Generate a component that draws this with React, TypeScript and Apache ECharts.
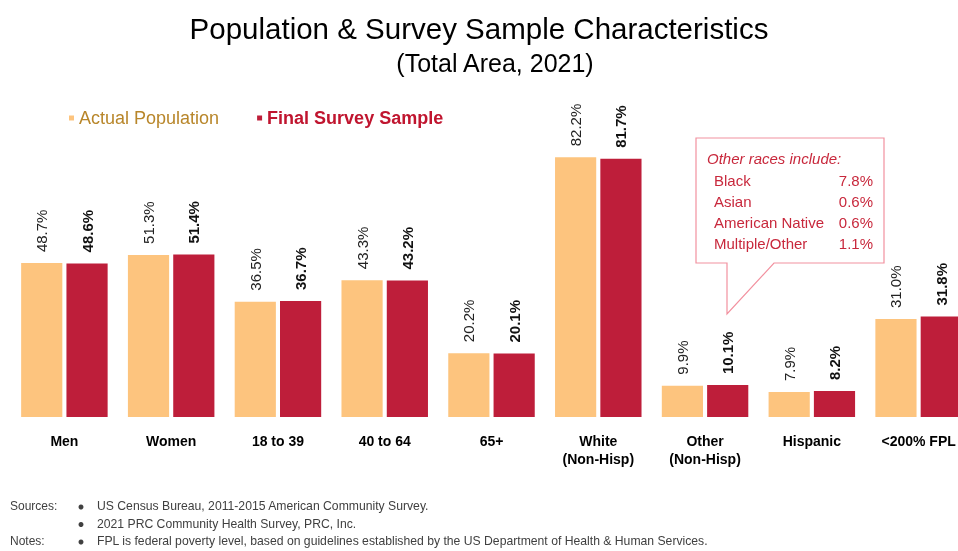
import React, { useEffect, useRef } from "react";
import * as echarts from "echarts";

const categories = ["Men", "Women", "18 to 39", "40 to 64", "65+", "White\n(Non-Hisp)", "Other\n(Non-Hisp)", "Hispanic", "<200% FPL"];
const actualPopulation = [48.7, 51.3, 36.5, 43.3, 20.2, 82.2, 9.9, 7.9, 31.0];
const finalSurveySample = [48.6, 51.4, 36.7, 43.2, 20.1, 81.7, 10.1, 8.2, 31.8];
const otherRaceNames = ["Black", "Asian", "American Native", "Multiple/Other"];
const otherRaceValues = ["7.8%", "0.6%", "0.6%", "1.1%"];
const footerLines = [
  ["Sources:", "US Census Bureau, 2011-2015 American Community Survey."],
  ["", "2021 PRC Community Health Survey, PRC, Inc."],
  ["Notes:", "FPL is federal poverty level, based on guidelines established by the US Department of Health & Human Services."],
];

const ORANGE = "#fdc47e";
const RED = "#be1e3a";
const FONT = "'Liberation Sans', Arial, sans-serif";
const NARROW = "'Liberation Sans Narrow', 'Arial Narrow', sans-serif";

export default function App() {
  const ref = useRef<HTMLDivElement>(null);
  useEffect(() => {
    if (!ref.current) return;
    const chart = echarts.init(ref.current, null, { renderer: "svg" });
    const calloutText: any[] = [
      { type: "text", x: 707, y: 151, z: 11, style: { text: "Other races include:", font: `italic 15px ${FONT}`, fill: "#c8283c", textVerticalAlign: "top" } },
    ];
    otherRaceNames.forEach((n, i) => {
      calloutText.push({ type: "text", x: 714, y: 173 + i * 21, z: 11, style: { text: n, font: `15px ${FONT}`, fill: "#c8283c", textVerticalAlign: "top" } });
      calloutText.push({ type: "text", x: 873, y: 173 + i * 21, z: 11, style: { text: otherRaceValues[i], font: `15px ${FONT}`, fill: "#c8283c", textAlign: "right", textVerticalAlign: "top" } });
    });
    const footer: any[] = [];
    footerLines.forEach((l, i) => {
      const y = 500 + i * 17.5;
      if (l[0]) footer.push({ type: "text", x: 10, y, style: { text: l[0], font: `12px ${FONT}`, fill: "#404040", textVerticalAlign: "top" } });
      footer.push({ type: "circle", shape: { cx: 81, cy: y + 7, r: 2.5 }, style: { fill: "#404040" } });
      footer.push({ type: "text", x: 97, y, style: { text: l[1], font: `12.2px ${FONT}`, fill: "#404040", textVerticalAlign: "top" } });
    });
    chart.setOption({
      animation: false,
      legend: {
        left: 64,
        top: 104,
        icon: "rect",
        itemWidth: 5,
        itemHeight: 5,
        itemGap: 38,
        data: [
          { name: "Actual Population", itemStyle: { color: ORANGE }, textStyle: { color: "#b8862a", fontWeight: "normal" } },
          { name: "Final Survey Sample", itemStyle: { color: RED }, textStyle: { color: "#c0152f", fontWeight: "bold" } },
        ],
        textStyle: { fontFamily: FONT, fontSize: 18 },
      },
      grid: { left: 11, right: 0, top: 101, bottom: 134 },
      xAxis: {
        type: "category",
        data: categories,
        axisLine: { show: false },
        axisTick: { show: false },
        axisLabel: { interval: 0, margin: 15, fontFamily: FONT, fontSize: 14, fontWeight: "bold", color: "#000", lineHeight: 18 },
      },
      yAxis: { type: "value", min: 0, max: 100, show: false, splitLine: { show: false } },
      series: [
        {
          name: "Actual Population",
          type: "bar",
          data: actualPopulation,
          barCategoryGap: "19%",
          barGap: "10%",
          itemStyle: { color: ORANGE },
          label: {
            show: true,
            position: "top",
            rotate: 90,
            align: "left",
            verticalAlign: "middle",
            distance: 11,
            formatter: (p: any) => p.value.toFixed(1) + "%",
            fontFamily: NARROW,
            fontSize: 15,
            color: "#222",
          },
        },
        {
          name: "Final Survey Sample",
          type: "bar",
          data: finalSurveySample,
          itemStyle: { color: RED },
          label: {
            show: true,
            position: "top",
            rotate: 90,
            align: "left",
            verticalAlign: "middle",
            distance: 11,
            formatter: (p: any) => p.value.toFixed(1) + "%",
            fontFamily: NARROW,
            fontSize: 15,
            fontWeight: "bold",
            color: "#111",
          },
        },
      ],
      graphic: [
        { type: "text", x: 479, y: 28, style: { text: "Population & Survey Sample Characteristics", font: `29.5px ${FONT}`, fill: "#000", textAlign: "center", textVerticalAlign: "middle" } },
        { type: "text", x: 495, y: 63, style: { text: "(Total Area, 2021)", font: `25px ${FONT}`, fill: "#000", textAlign: "center", textVerticalAlign: "middle" } },
        {
          type: "polygon",
          z: 10,
          shape: { points: [[696, 138], [884, 138], [884, 263], [774, 263], [727, 314], [727, 263], [696, 263]] },
          style: { fill: "#fff", stroke: "#f2919f", lineWidth: 1.2 },
        },
        ...calloutText,
        ...footer,
      ],
    });
    return () => chart.dispose();
  }, []);
  return <div ref={ref} style={{ position: "fixed", left: 0, top: 0, width: 972, height: 551 }} />;
}
